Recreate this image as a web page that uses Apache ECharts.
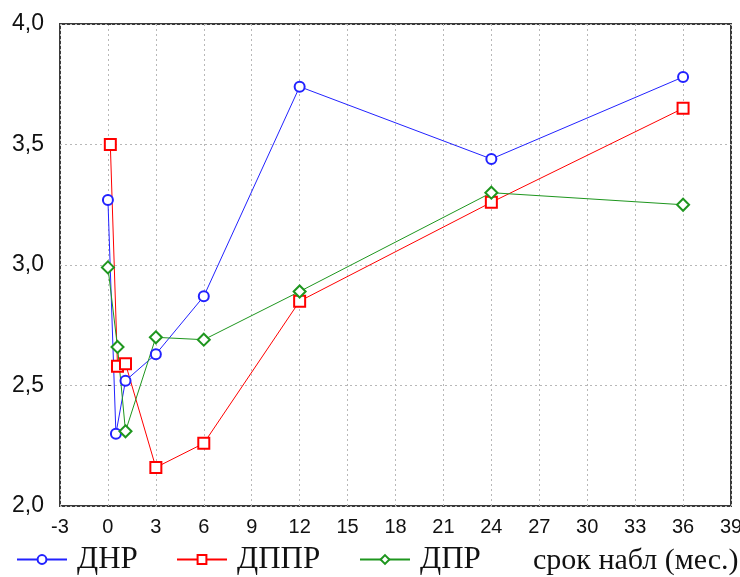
<!DOCTYPE html>
<html>
<head>
<meta charset="utf-8">
<script src="https://cdn.jsdelivr.net/npm/echarts@6/dist/echarts.min.js"></script>
<style>
  html, body { margin: 0; padding: 0; background: #fff; }
  #chart { width: 740px; height: 577px; }
</style>
</head>
<body>
<div id="chart"></div>
<script>
// Observation time (months) and index values for each group
const dnrMonths  = [0, 0.5, 1.1, 3, 6, 12, 24, 36];
const dnrValues  = [3.27, 2.30, 2.52, 2.63, 2.87, 3.74, 3.44, 3.78];

const dpprMonths = [0.15, 0.6, 1.1, 3, 6, 12, 24, 36];
const dpprValues = [3.50, 2.58, 2.59, 2.16, 2.26, 2.85, 3.26, 3.65];

const dprMonths  = [0, 0.6, 1.1, 3, 6, 12, 24, 36];
const dprValues  = [2.99, 2.66, 2.31, 2.70, 2.69, 2.89, 3.30, 3.25];

const seriesNames = ['ДНР', 'ДППР', 'ДПР'];
const axisTitle = 'срок набл (мес.)';

const pairs = (xs, ys) => xs.map((x, i) => [x, ys[i]]);

const chart = echarts.init(document.getElementById('chart'), null, { renderer: 'canvas' });

const legendText = { fontFamily: 'Liberation Serif', fontSize: 31, color: '#111', padding: [0, 0, 0, 5] };
const legendBase = { orient: 'horizontal', top: 544, padding: 0, itemWidth: 50, itemHeight: 11, textStyle: legendText, selectedMode: false };

chart.setOption({
  animation: false,
  backgroundColor: '#fff',
  grid: { left: 60, top: 24, right: 9, bottom: 71, containLabel: false, outerBoundsMode: 'none',
    show: true, borderColor: '#3a3a3a', borderWidth: 2, backgroundColor: 'transparent' },
  xAxis: {
    type: 'value', min: -3, max: 39, interval: 3,
    axisLine: { show: false },
    axisTick: { show: false },
    axisLabel: { fontFamily: 'Liberation Sans', fontSize: 20, color: '#111', margin: 11 },
    splitLine: { show: true, lineStyle: { color: '#b8b8b8', type: [2, 3], width: 1 } }
  },
  yAxis: {
    type: 'value', min: 2, max: 4, interval: 0.5,
    axisLine: { show: false },
    axisTick: { show: true, inside: true, length: 3, lineStyle: { color: '#333' } },
    axisLabel: { fontFamily: 'Liberation Sans', fontSize: 23, color: '#111', margin: 16,
      formatter: v => v.toFixed(1).replace('.', ',') },
    splitLine: { show: true, lineStyle: { color: '#b8b8b8', type: [2, 3], width: 1 } }
  },
  legend: [
    Object.assign({ left: 16, data: [seriesNames[0]] }, legendBase),
    Object.assign({ left: 176, data: [seriesNames[1]] }, legendBase),
    Object.assign({ left: 359, data: [seriesNames[2]] }, legendBase)
  ],
  graphic: [{
    type: 'text', left: 533, top: 546,
    style: { text: axisTitle, font: '30px "Liberation Serif"', fill: '#111' }
  }],
  series: [
    {
      name: seriesNames[0], type: 'line', data: pairs(dnrMonths, dnrValues),
      symbol: 'emptyCircle', symbolSize: 10,
      lineStyle: { color: '#2222ff', width: 1 },
      itemStyle: { color: '#2222ff', borderWidth: 1.2 }
    },
    {
      name: seriesNames[1], type: 'line', data: pairs(dpprMonths, dpprValues),
      symbol: 'emptyRect', symbolSize: 11,
      lineStyle: { color: '#ff0000', width: 1 },
      itemStyle: { color: '#ff0000', borderWidth: 1.2 }
    },
    {
      name: seriesNames[2], type: 'line', data: pairs(dprMonths, dprValues),
      symbol: 'emptyDiamond', symbolSize: 12,
      lineStyle: { color: '#1e961e', width: 1 },
      itemStyle: { color: '#1e961e', borderWidth: 1.2 }
    }
  ]
});
</script>
</body>
</html>
